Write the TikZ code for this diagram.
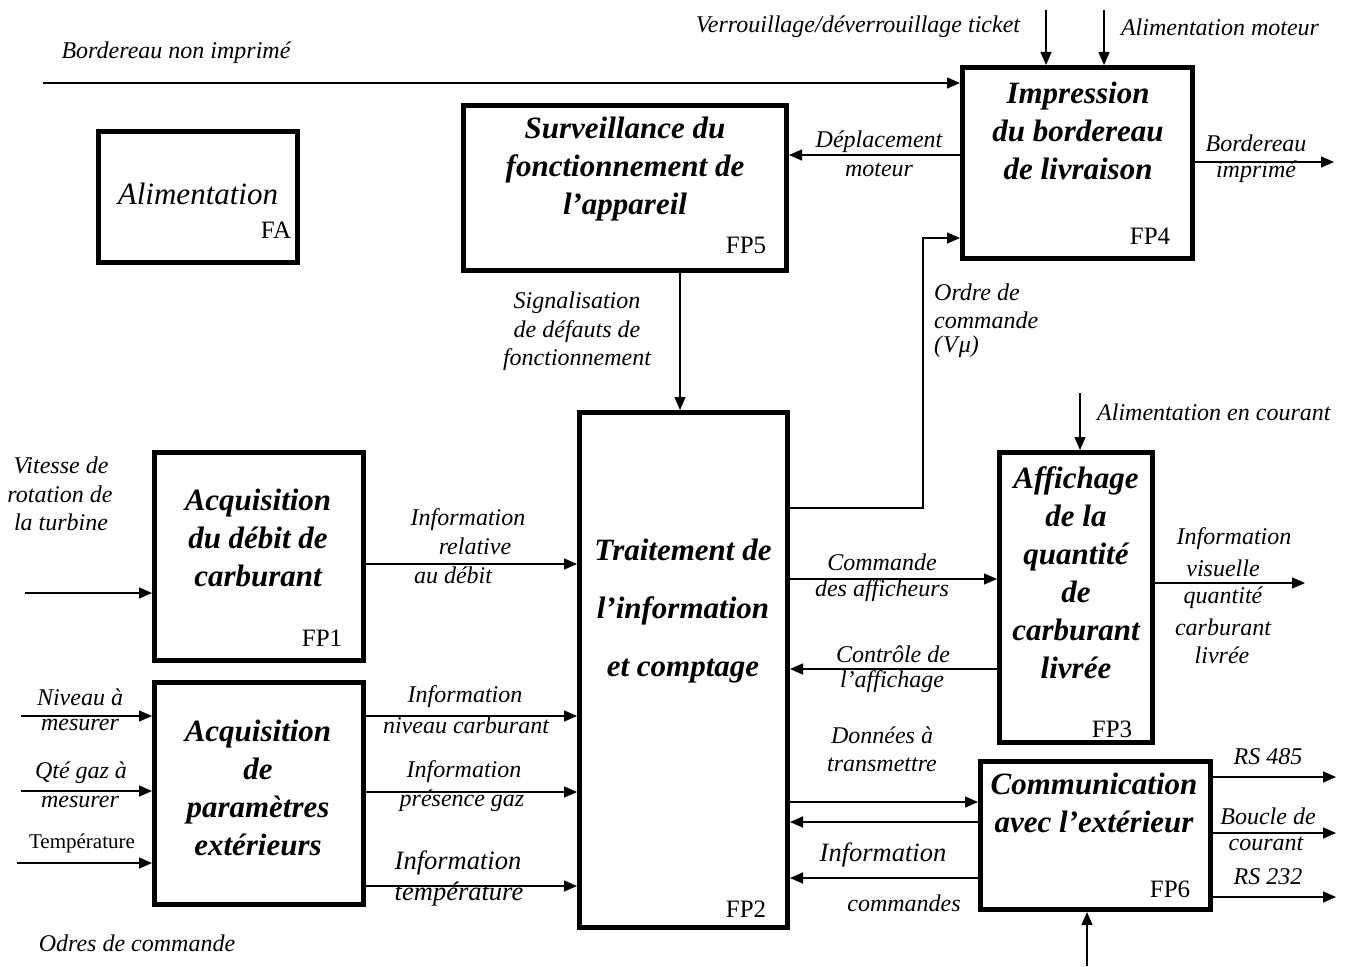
\documentclass[tikz,border=0pt]{standalone}
\usepackage{fontspec}
\setmainfont{Liberation Serif}
\usetikzlibrary{arrows.meta,calc}
\begin{document}
\begin{tikzpicture}[x=1pt,y=-1pt,
  box/.style={draw,line width=4.8pt,inner sep=0pt},
  arr/.style={line width=1.4pt,-{Triangle[length=13pt,width=11pt]}},
  lab/.style={font=\fontsize{24}{29}\selectfont\itshape,inner sep=0pt,align=center},
  labbig/.style={font=\fontsize{26.5}{31}\selectfont\itshape,inner sep=0pt,align=center},
  labup/.style={font=\fontsize{21}{25}\selectfont,inner sep=0pt},
  ttl/.style={font=\fontsize{31}{38}\selectfont\bfseries\itshape,inner sep=0pt,align=center},
  ttlwide/.style={font=\fontsize{31}{58}\selectfont\bfseries\itshape,inner sep=0pt,align=center},
  ttlreg/.style={font=\fontsize{31}{38}\selectfont\itshape,inner sep=0pt,align=center},
  fpl/.style={font=\fontsize{25}{30}\selectfont,inner sep=0pt}]
\useasboundingbox (0,0) rectangle (1348,966);

% ---------- boxes ----------
\node[box,minimum width=199.2pt,minimum height=131.2pt] (fa)  at (198,197) {};
\node[box,minimum width=323.2pt,minimum height=165.2pt] (fp5) at (625,188) {};
\node[box,minimum width=230.2pt,minimum height=191.2pt] (fp4) at (1077.5,163) {};
\node[box,minimum width=209.2pt,minimum height=208.2pt] (fp1) at (259,556.5) {};
\node[box,minimum width=209.2pt,minimum height=222.2pt] (par) at (259,793.5) {};
\node[box,minimum width=208.2pt,minimum height=515.2pt] (fp2) at (683.5,670) {};
\node[box,minimum width=153.2pt,minimum height=290.2pt] (fp3) at (1076,597.5) {};
\node[box,minimum width=230.2pt,minimum height=148.2pt] (fp6) at (1095.5,835.5) {};

% ---------- titles ----------
\node[ttlreg] (tfa) at (198,194) {Alimentation};
\node[fpl] (nfa) at (276,230) {FA};
\node[ttl] (tfp5) at (625,169) {Surveillance du\\fonctionnement de\\l’appareil};
\node[fpl] (nfp5) at (746,245) {FP5};
\node[ttl] (tfp4) at (1078,131) {Impression\\du bordereau\\de livraison};
\node[fpl] (nfp4) at (1150,236) {FP4};
\node[ttl] (tfp1) at (258,538) {Acquisition\\du débit de\\carburant};
\node[fpl] (nfp1) at (322,638) {FP1};
\node[ttl] (tpar) at (258,788) {Acquisition\\de\\paramètres\\extérieurs};
\node[ttlwide] (tfp2) at (683,611) {Traitement de\\l’information\\et comptage};
\node[fpl] (nfp2) at (746,909) {FP2};
\node[ttl] (tfp3) at (1076,573) {Affichage\\de la\\quantité\\de\\carburant\\livrée};
\node[fpl] (nfp3) at (1112,729) {FP3};
\node[ttl] (tfp6) at (1094,803) {Communication\\avec l’extérieur};
\node[fpl] (nfp6) at (1170,889) {FP6};

% ---------- coordinates ----------
\coordinate (bni) at (43,83);
\coordinate (vt) at (1046,10);
\coordinate (am) at (1104,10);
\coordinate (y155) at (0,155);
\coordinate (bi) at (1334,162);
\coordinate (x680) at (680,0);
\coordinate (ord1) at (923,508);
\coordinate (ord2) at (923,238);
\coordinate (ac) at (1080,393);
\coordinate (vit) at (25,593);
\coordinate (y564) at (0,564);
\coordinate (y579) at (0,579);
\coordinate (iv) at (1305,583);
\coordinate (y669) at (0,669);
\coordinate (niv) at (21,716);
\coordinate (qte) at (21,791);
\coordinate (tmp) at (17,863);
\coordinate (y716) at (0,716);
\coordinate (y792) at (0,792);
\coordinate (y886) at (0,886);
\coordinate (y802) at (0,802);
\coordinate (y822) at (0,822);
\coordinate (y878) at (0,878);
\coordinate (rs485) at (1336,777);
\coordinate (boucle) at (1336,833);
\coordinate (rs232) at (1336,897);
\coordinate (odr) at (1087,966);

% ---------- connectors ----------
\draw[arr] (bni) -- (fp4.west |- bni);
\draw[arr] (vt) -- (vt |- fp4.north);
\draw[arr] (am) -- (am |- fp4.north);
\draw[arr] (fp4.west |- y155) -- (fp5.east |- y155);
\draw[arr] (fp4.east |- bi) -- (bi);
\draw[arr] (x680 |- fp5.south) -- (x680 |- fp2.north);
\draw[arr] (fp2.east |- ord1) -- (ord1) -- (ord2) -- (fp4.west |- ord2);
\draw[arr] (ac) -- (ac |- fp3.north);
\draw[arr] (vit) -- (fp1.west |- vit);
\draw[arr] (fp1.east |- y564) -- (fp2.west |- y564);
\draw[arr] (fp2.east |- y579) -- (fp3.west |- y579);
\draw[arr] (fp3.east |- iv) -- (iv);
\draw[arr] (fp3.west |- y669) -- (fp2.east |- y669);
\draw[arr] (niv) -- (par.west |- niv);
\draw[arr] (qte) -- (par.west |- qte);
\draw[arr] (tmp) -- (par.west |- tmp);
\draw[arr] (par.east |- y716) -- (fp2.west |- y716);
\draw[arr] (par.east |- y792) -- (fp2.west |- y792);
\draw[arr] (par.east |- y886) -- (fp2.west |- y886);
\draw[arr] (fp2.east |- y802) -- (fp6.west |- y802);
\draw[arr] (fp6.west |- y822) -- (fp2.east |- y822);
\draw[arr] (fp6.west |- y878) -- (fp2.east |- y878);
\draw[arr] (fp6.east |- rs485) -- (rs485);
\draw[arr] (fp6.east |- boucle) -- (boucle);
\draw[arr] (fp6.east |- rs232) -- (rs232);
\draw[arr] (odr) -- (odr |- fp6.south);

% ---------- labels ----------
\node[lab] (l1) at (176,53) {Bordereau non imprimé};
\node[lab] (l2) at (858,27) {Verrouillage/déverrouillage ticket};
\node[lab] (l3) at (1220,27) {Alimentation moteur};
\node[lab] (l4a) at (879,142) {Déplacement};
\node[lab] (l4b) at (879,170) {moteur};
\node[lab] (l5a) at (1256,143) {Bordereau};
\node[lab] (l5b) at (1256,172) {imprimé};
\node[lab] (l6a) at (577,303) {Signalisation};
\node[lab] (l6b) at (577,332) {de défauts de};
\node[lab] (l6c) at (577,360) {fonctionnement};
\node[lab,anchor=west] (l7a) at (934,292) {Ordre de};
\node[lab,anchor=west] (l7b) at (934,320) {commande};
\node[lab,anchor=west] (l7c) at (934,347) {(\kern1ptV\kern1ptμ)};
\node[lab,anchor=west] (l8) at (1097,412) {Alimentation en courant};
\node[lab] (l9a) at (61,465) {Vitesse de};
\node[lab] (l9b) at (60,494) {rotation de};
\node[lab] (l9c) at (61,522) {la turbine};
\node[lab] (l10a) at (468,520) {Information};
\node[lab] (l10b) at (475,546) {relative};
\node[lab] (l10c) at (453,575) {au débit};
\node[lab] (l11a) at (882,562) {Commande};
\node[lab] (l11b) at (882,591) {des afficheurs};
\node[lab] (l12a) at (1234,539) {Information};
\node[lab] (l12b) at (1223,568) {visuelle};
\node[lab] (l12c) at (1223,598) {quantité};
\node[lab] (l12d) at (1223,627) {carburant};
\node[lab] (l12e) at (1222,655) {livrée};
\node[lab] (l13a) at (893,654) {Contrôle de};
\node[lab] (l13b) at (892,682) {l'affichage};
\node[lab] (l14a) at (80,697) {Niveau à};
\node[lab] (l14b) at (80,725) {mesurer};
\node[lab] (l15a) at (465,697) {Information};
\node[lab] (l15b) at (466,725) {niveau carburant};
\node[lab] (l16a) at (81,773) {Qté gaz à};
\node[lab] (l16b) at (80,802) {mesurer};
\node[lab] (l17a) at (464,772) {Information};
\node[lab] (l17b) at (462,801) {présence gaz};
\node[labup] (l18) at (82,843) {Température};
\node[labbig] (l19a) at (458,863) {Information};
\node[labbig] (l19b) at (459,894) {température};
\node[lab] (l20) at (137,943) {Odres de commande};
\node[lab] (l21a) at (882,735) {Données à};
\node[lab] (l21b) at (882,765) {transmettre};
\node[labbig] (l22a) at (883,855) {Information};
\node[lab] (l22b) at (904,903) {commandes};
\node[lab] (l23) at (1268,757) {RS 485};
\node[lab] (l24a) at (1268,816) {Boucle de};
\node[lab] (l24b) at (1266,844) {courant};
\node[lab] (l25) at (1268,877) {RS 232};
\end{tikzpicture}
\end{document}
